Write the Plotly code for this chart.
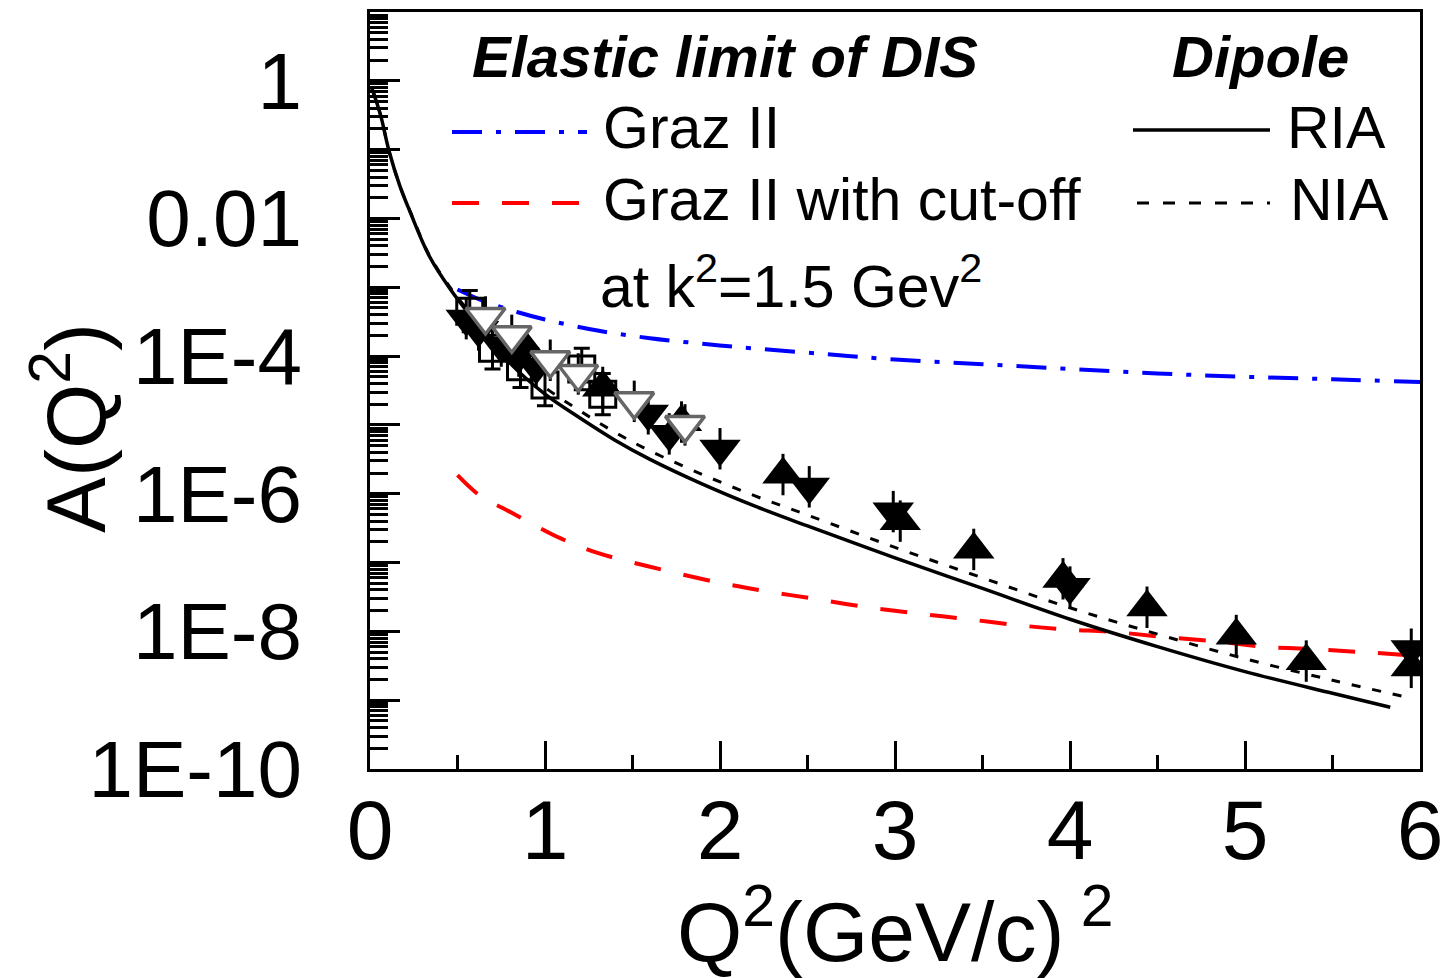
import plotly.graph_objects as go

# ---------------- data ----------------
ria_x = [0.01, 0.06, 0.11, 0.17, 0.23, 0.34, 0.46, 0.6, 0.8, 1.0, 1.2, 1.4, 1.6, 1.9, 2.2, 2.5, 3.0, 3.5, 4.0, 4.5, 5.0, 5.5, 5.83]
ria_y = [0.79, 0.32, 0.093, 0.030, 0.0123, 2.8e-3, 9.3e-4, 3.2e-4, 7.9e-5, 2.8e-5, 1.26e-5, 6.0e-6, 3.16e-6,
         1.38e-6, 6.6e-7, 3.4e-7, 1.17e-7, 4.2e-8, 1.5e-8, 6.0e-9, 2.6e-9, 1.26e-9, 7.9e-10]

nia_x = [0.01, 0.06, 0.11, 0.17, 0.23, 0.34, 0.46, 0.6, 0.8, 1.0, 1.2, 1.4, 1.6, 1.9, 2.2, 2.5, 3.0, 3.5, 4.0, 4.5, 5.0, 5.5, 5.93]
nia_y = [0.79, 0.32, 0.093, 0.030, 0.0126, 2.9e-3, 9.8e-4, 3.5e-4, 9.1e-5, 3.5e-5, 1.6e-5, 7.8e-6, 4.2e-6,
         1.9e-6, 9.3e-7, 4.9e-7, 1.66e-7, 6.0e-8, 2.2e-8, 9.1e-9, 4.0e-9, 1.95e-9, 1.1e-9]

graz_x = [0.5, 0.65, 0.85, 1.0, 1.3, 1.6, 1.9, 2.2, 2.6, 3.0, 3.5, 4.0, 4.5, 5.0, 5.5, 6.0]
graz_y = [9.3e-4, 6.3e-4, 4.3e-4, 3.4e-4, 2.35e-4, 1.82e-4, 1.51e-4, 1.29e-4, 1.07e-4, 8.9e-5, 7.6e-5,
          6.5e-5, 5.6e-5, 5.0e-5, 4.6e-5, 4.2e-5]

cut_x = [0.5, 0.63, 0.78, 0.93, 1.09, 1.3, 1.6, 1.98, 2.27, 2.55, 2.84, 3.13, 3.41, 3.70, 3.97, 4.25,
         4.53, 4.82, 5.10, 5.39, 5.67, 6.0]
cut_y = [1.86e-6, 9.3e-7, 5.8e-7, 3.6e-7, 2.24e-7, 1.38e-7, 8.7e-8, 5.2e-8, 3.8e-8, 2.95e-8, 2.24e-8,
         1.82e-8, 1.51e-8, 1.23e-8, 1.07e-8, 9.8e-9, 8.3e-9, 7.2e-9, 6.0e-9, 5.5e-9, 5.0e-9, 4.4e-9]

open_sq_x = [0.57, 0.70, 0.86, 1.00, 1.21, 1.33]
open_sq_y = [4.5e-4, 1.3e-4, 7.0e-5, 3.8e-5, 6.5e-5, 2.8e-5]

open_dn_x = [0.66, 0.81, 1.03, 1.19, 1.51, 1.80]
open_dn_y = [3.7e-4, 2.0e-4, 8.7e-5, 5.5e-5, 2.2e-5, 1.0e-5]

filled_dn_x = [0.55, 0.62, 0.75, 0.85, 0.95, 1.59, 1.71, 2.00, 2.51, 2.99, 4.00, 5.95]
filled_dn_y = [3.5e-4, 2.4e-4, 1.4e-4, 1.0e-4, 7.0e-5, 1.45e-5, 7.4e-6, 4.5e-6, 1.26e-6, 5.5e-7, 4.4e-8, 5.5e-9]

filled_up_x = [0.88, 1.33, 1.78, 2.36, 3.03, 3.45, 3.96, 4.44, 4.95, 5.35, 5.95]
filled_up_y = [1.4e-4, 3.5e-5, 1.1e-5, 1.9e-6, 4.0e-7, 1.55e-7, 5.8e-8, 2.24e-8, 8.7e-9, 3.7e-9, 3.0e-9]

y_major_vals = [1e-10, 1e-9, 1e-8, 1e-7, 1e-6, 1e-5, 1e-4, 1e-3, 1e-2, 1e-1, 1, 10]
y_major_text = ["1E-10", "", "1E-8", "", "1E-6", "", "1E-4", "", "0.01", "", "1", ""]
x_tick_vals = [0, 1, 2, 3, 4, 5, 6]

FONT = "Liberation Sans, Arial, sans-serif"

fig = go.Figure()

err = dict(type="percent", symmetric=False, value=100, valueminus=50, thickness=3, width=0, color="black")

# theory curves
fig.add_trace(go.Scatter(x=graz_x, y=graz_y, mode="lines",
                         line=dict(color="#0000ff", width=4, dash="30px,14px,5px,14px", shape="spline"),
                         showlegend=False))
fig.add_trace(go.Scatter(x=cut_x, y=cut_y, mode="lines",
                         line=dict(color="#ff0000", width=4, dash="27px,23px", shape="spline"),
                         showlegend=False))
fig.add_trace(go.Scatter(x=ria_x, y=ria_y, mode="lines", line=dict(color="black", width=3.5, shape="spline"),
                         showlegend=False))
fig.add_trace(go.Scatter(x=nia_x, y=nia_y, mode="lines",
                         line=dict(color="black", width=3, dash="9px,12px", shape="spline"),
                         showlegend=False))

# data
fig.add_trace(go.Scatter(x=open_sq_x, y=open_sq_y, mode="markers",
                         marker=dict(symbol="square-open", size=26, color="black", line=dict(width=3, color="black")),
                         error_y=dict(err, width=8), showlegend=False))
fig.add_trace(go.Scatter(x=filled_dn_x, y=filled_dn_y, mode="markers",
                         marker=dict(symbol="triangle-down", size=36, color="black", line=dict(width=0)),
                         error_y=err, showlegend=False))
fig.add_trace(go.Scatter(x=filled_up_x, y=filled_up_y, mode="markers",
                         marker=dict(symbol="triangle-up", size=36, color="black", line=dict(width=0)),
                         error_y=err, showlegend=False))
fig.add_trace(go.Scatter(x=open_dn_x, y=open_dn_y, mode="markers",
                         marker=dict(symbol="triangle-down", size=34, color="white", line=dict(width=3.5, color="#666666")),
                         error_y=err, showlegend=False))

# minor ticks on log axis
y_minor = []
for e in range(-10, 1):
    for m in range(2, 10):
        y_minor.append(m * 10.0 ** e)

fig.update_layout(
    width=1444, height=978,
    margin=dict(l=370, r=24, t=12, b=209),
    paper_bgcolor="white", plot_bgcolor="white",
    font=dict(family=FONT, color="black"),
    xaxis=dict(range=[0, 6], tickvals=x_tick_vals, ticks="inside", ticklen=28, tickwidth=3, tickcolor="black",
               showline=True, linewidth=3, linecolor="black", mirror=True, showgrid=False, zeroline=False,
               tickfont=dict(size=84, family=FONT), ticklabelstandoff=-14, automargin=False,
               minor=dict(dtick=0.5, ticks="inside", ticklen=14, tickwidth=3, tickcolor="black", showgrid=False)),
    yaxis=dict(type="log", range=[-10, 1], tickvals=y_major_vals, ticktext=y_major_text,
               ticks="inside", ticklen=30, tickwidth=3, tickcolor="black",
               showline=True, linewidth=3, linecolor="black", mirror=True, showgrid=False, zeroline=False,
               tickfont=dict(size=80, family=FONT), ticklabelstandoff=49, automargin=False,
               minor=dict(tickvals=y_minor, ticks="inside", ticklen=18, tickwidth=3, tickcolor="black", showgrid=False)),
)

def px2paper_x(px):
    return (px - 370) / 1050.0

def px2paper_y(py):
    return (769 - py) / 757.0

# legend lines
shapes = [
    dict(x0=452, x1=587, y=132, color="#0000ff", width=4, dash="30px,14px,5px,14px"),
    dict(x0=452, x1=587, y=203, color="#ff0000", width=4, dash="27px,23px"),
    dict(x0=1133, x1=1270, y=130, color="black", width=3.5, dash="solid"),
    dict(x0=1137, x1=1270, y=203, color="black", width=3, dash="12px,14px"),
]
for s in shapes:
    fig.add_shape(type="line", xref="paper", yref="paper",
                  x0=px2paper_x(s["x0"]), x1=px2paper_x(s["x1"]), y0=px2paper_y(s["y"]), y1=px2paper_y(s["y"]),
                  line=dict(color=s["color"], width=s["width"], dash=s["dash"]))

texts = [
    ("<b><i>Elastic limit of DIS</i></b>", 470, 57, 58),
    ("<b><i>Dipole</i></b>", 1170, 57, 58),
    ("Graz II", 601, 128, 59),
    ("Graz II with cut-off", 601, 200, 59),
    ("at k<sup>2</sup>=1.5 Gev<sup>2</sup>", 598, 282, 59),
    ("RIA", 1285, 128, 59),
    ("NIA", 1288, 200, 59),
]
for t, x, y, sz in texts:
    fig.add_annotation(text=t, xref="paper", yref="paper", x=px2paper_x(x), y=px2paper_y(y),
                       xanchor="left", yanchor="middle", showarrow=False, font=dict(size=sz, family=FONT, color="black"))

# axis titles
fig.add_annotation(text="A(Q<sup>2</sup>)", xref="paper", yref="paper", x=px2paper_x(70), y=px2paper_y(428),
                   xanchor="center", yanchor="middle", textangle=-90, showarrow=False,
                   font=dict(size=84, family=FONT, color="black"))
fig.add_annotation(text="Q<sup>2</sup>(GeV/c)<sup> 2</sup>", xref="paper", yref="paper", x=px2paper_x(895),
                   y=px2paper_y(926), xanchor="center", yanchor="middle", showarrow=False,
                   font=dict(size=84, family=FONT, color="black"))

fig.write_html("out.html")
